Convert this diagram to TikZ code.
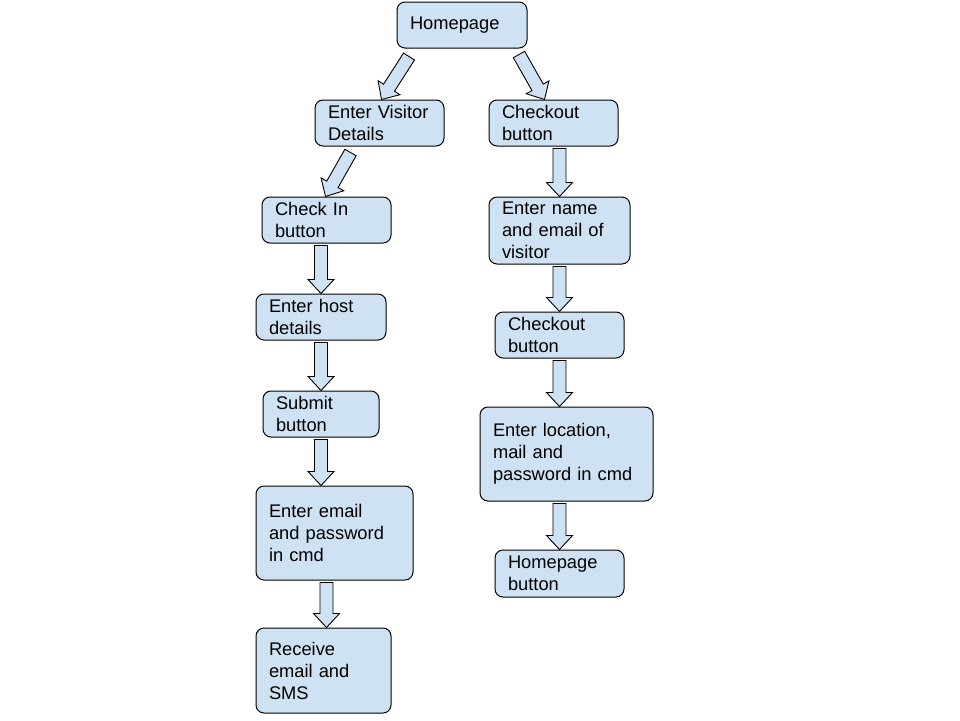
\documentclass[tikz,border=0pt]{standalone}
\usepackage{fontspec}
\setmainfont{Liberation Sans}
\usepackage{xcolor}
\usetikzlibrary{calc}

\definecolor{boxblue}{HTML}{CFE2F3}

% hollow block arrow from #1 to #2
\newcommand{\flowarrow}[2]{%
  \coordinate (fa) at #1;
  \coordinate (fb) at #2;
  \coordinate (fh) at ($(fb)!14pt!(fa)$);
  \draw [flow] ($(fa)!6.5pt!90:(fb)$) -- ($(fh)!6.5pt!90:(fb)$)
    -- ($(fh)!13pt!90:(fb)$) -- (fb) -- ($(fh)!13pt!-90:(fb)$)
    -- ($(fh)!6.5pt!-90:(fb)$) -- ($(fa)!6.5pt!-90:(fb)$) -- cycle;}

\begin{document}
\begin{tikzpicture}[x=1pt, y=-1pt,
       box/.style={rectangle, rounded corners=8pt, draw=black, line width=1pt,
      fill=boxblue, inner xsep=13pt, inner ysep=0pt, align=left,
      minimum height=46pt, font=\fontsize{18.3}{22}\selectfont},
        flow/.style={draw=black, line width=0.9pt, fill=boxblue, line join=miter}]

	\useasboundingbox (0,0) rectangle (960,720);

	\node [box, text width=104pt] (home) at (462,25)          {Homepage};
        \node [box, text width=103pt] (visitor) at (379.5,123)   {Enter Visitor\\Details};
        \node [box, text width=103pt] (checkout) at (553.5,123)  {Checkout\\button};
        \node [box, text width=103pt] (checkin) at (326.5,220)   {Check In\\button};
        \node [box, text width=115pt, minimum height=67pt] (name) at (559.5,230.5) {Enter name\\and email of\\visitor};
        \node [box, text width=104pt] (host) at (321,317)        {Enter host\\details};
        \node [box, text width=103pt] (checkout2) at (559.5,335) {Checkout\\button};
        \node [box, text width=90pt] (submit) at (321,414)       {Submit\\button};
        \node [box, text width=147pt, minimum height=94pt] (location) at (566.5,454) {Enter location,\\mail and\\password in cmd};
        \node [box, text width=131pt, minimum height=94pt] (email) at (334.5,533) {Enter email\\and password\\in cmd};
        \node [box, text width=103pt, minimum height=47pt] (homebtn) at (559.5,573.5) {Homepage\\button};
	\node [box, text width=109pt, minimum height=85pt] (receive) at (323.5,670.5) {Receive\\email and\\SMS};

        \flowarrow{($(home.south)+(-53,8)$)}{($(visitor.north)+(2,0)$)}
        \flowarrow{($(home.south)+(57,6)$)}{($(checkout.north)+(-9,0)$)}
        \flowarrow{($(visitor.south)+(-29,6)$)}{($(checkin.north)+(-1,0)$)}
        \flowarrow{($(checkin.south -| host.north)+(0,2)$)}{(host.north)}
        \flowarrow{($(host.south)+(0,2)$)}{(submit.north)}
        \flowarrow{($(submit.south)+(0,2)$)}{(submit.south |- email.north)}
        \flowarrow{($(email.south -| receive.north)+(3,2)$)}{($(receive.north)+(3,0)$)}
        \flowarrow{($(checkout.south -| name.north)+(0,2)$)}{(name.north)}
        \flowarrow{($(name.south)+(0,2)$)}{(checkout2.north)}
        \flowarrow{($(checkout2.south)+(0,2)$)}{(checkout2.south |- location.north)}
        \flowarrow{($(location.south -| homebtn.north)+(0,2)$)}{(homebtn.north)}
\end{tikzpicture}
\end{document}
